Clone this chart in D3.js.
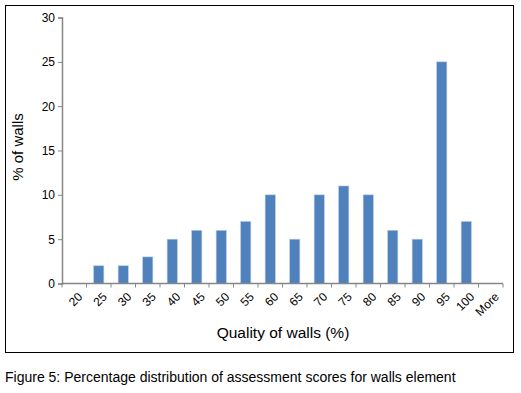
<!DOCTYPE html>
<html>
<head>
<meta charset="utf-8">
<script src="https://cdn.jsdelivr.net/npm/d3@7"></script>
<style>
  html, body { margin: 0; padding: 0; background: #fff; }
  svg { display: block; font-family: "Liberation Sans", Arial, sans-serif; }
</style>
</head>
<body>
<svg id="chart" width="521" height="393"></svg>
<script>
// ── Data ──
var categories = ['20', '25', '30', '35', '40', '45', '50', '55', '60', '65', '70', '75', '80', '85', '90', '95', '100', 'More'];
var values = [0, 2, 2, 3, 5, 6, 6, 7, 10, 5, 10, 11, 10, 6, 5, 25, 7, 0];
var yTicks = [0, 5, 10, 15, 20, 25, 30];

(function () {
  'use strict';
  var svg = d3.select('#chart');
  var left = 62, right = 503, top = 17.5, bottom = 283.5;

  // frame
  svg.append('rect').attr('x', 5.5).attr('y', 5.5).attr('width', 508).attr('height', 347)
    .attr('fill', 'none').attr('stroke', '#000').attr('stroke-width', 1);

  var x = d3.scaleBand().domain(categories).range([left, right]).paddingInner(0).paddingOuter(0);
  var y = d3.scaleLinear().domain([0, 30]).range([bottom, top]);

  var barW = x.bandwidth() / 2.4;

  svg.append('g').selectAll('rect').data(values).join('rect')
    .attr('x', function (d, i) { return x(categories[i]) + (x.bandwidth() - barW) / 2; })
    .attr('y', function (d) { return y(d); })
    .attr('width', barW)
    .attr('height', function (d) { return bottom - y(d); })
    .attr('fill', '#4F81BD')
    .attr('stroke', '#B9CDE5').attr('stroke-width', 0.6);

  // y axis
  var yAxis = svg.append('g').attr('transform', 'translate(' + left + ',0)')
    .call(d3.axisLeft(y).tickValues(yTicks).tickSize(4).tickPadding(3));
  yAxis.select('.domain').attr('stroke', '#868686').attr('stroke-width', 1.5);
  yAxis.selectAll('.tick line').attr('stroke', '#868686');
  yAxis.selectAll('.tick text').attr('font-size', 12).attr('fill', '#000')
    .attr('font-family', '"Liberation Sans", Arial, sans-serif');

  // x axis: ticks at band boundaries
  var xAxisG = svg.append('g').attr('transform', 'translate(0,' + bottom + ')');
  xAxisG.append('line').attr('x1', left).attr('x2', right).attr('y1', 0).attr('y2', 0)
    .attr('stroke', '#868686').attr('stroke-width', 1.5);
  var bounds = categories.map(function (c) { return x(c); }).concat([right]);
  xAxisG.selectAll('line.tk').data(bounds).join('line').attr('class', 'tk')
    .attr('x1', function (d) { return d; }).attr('x2', function (d) { return d; })
    .attr('y1', 0).attr('y2', 4).attr('stroke', '#868686');
  xAxisG.selectAll('text').data(categories).join('text')
    .attr('transform', function (d) {
      return 'translate(' + (x(d) + x.bandwidth() / 2 + 3) + ',8) rotate(-45)';
    })
    .attr('text-anchor', 'end').attr('dy', '0.7em')
    .attr('font-size', 12).attr('fill', '#000')
    .text(function (d) { return d; });

  // axis titles
  svg.append('text').attr('transform', 'translate(23,147) rotate(-90)')
    .attr('text-anchor', 'middle').attr('font-size', 15).attr('fill', '#000')
    .text('% of walls');
  svg.append('text').attr('x', 283).attr('y', 338)
    .attr('text-anchor', 'middle').attr('font-size', 15.5).attr('fill', '#000')
    .text('Quality of walls (%)');

  // caption
  svg.append('text').attr('x', 5).attr('y', 382)
    .attr('font-size', 14).attr('fill', '#000')
    .text('Figure 5: Percentage distribution of assessment scores for walls element');
})();
</script>
</body>
</html>
